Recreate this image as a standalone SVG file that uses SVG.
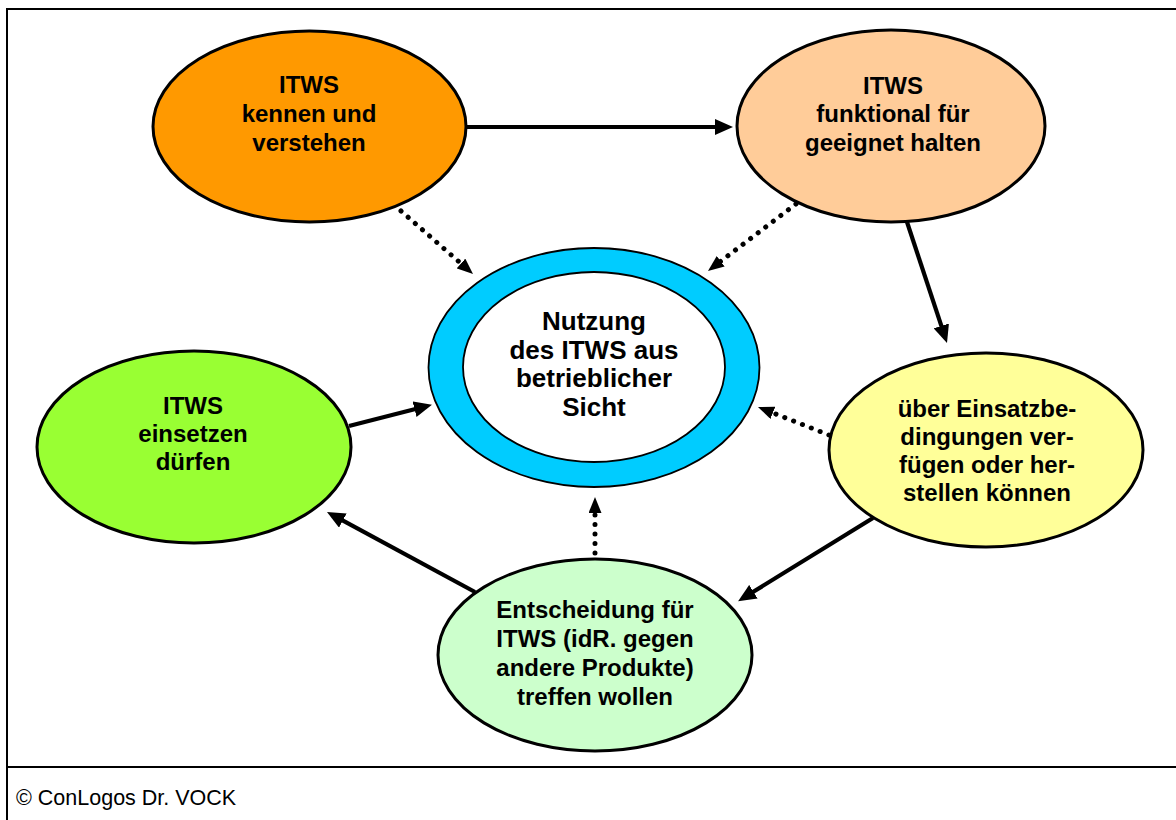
<svg xmlns="http://www.w3.org/2000/svg" width="1176" height="820" viewBox="0 0 1176 820">
<style>
.node{stroke:#000;stroke-width:3}
.ring{stroke:#000;stroke-width:1.8}
.t{font-family:"Liberation Sans",Arial,sans-serif;font-weight:bold;font-size:24px;text-anchor:middle;fill:#000}
.tc{font-size:26px}
.solid{stroke:#000;stroke-width:4.2;fill:none}
.dot{stroke:#000;stroke-width:5;fill:none;stroke-linecap:round;stroke-dasharray:0.1 9.4}
.frame{fill:none;stroke:#000;stroke-width:2}
</style>
<defs>
<marker id="ah" markerUnits="userSpaceOnUse" markerWidth="18" markerHeight="16" viewBox="0 0 18 16" refX="4" refY="8" orient="auto">
<path d="M0,0 L18,8 L0,16 z" fill="#000"/>
</marker>
<marker id="ahd" markerUnits="userSpaceOnUse" markerWidth="16" markerHeight="13" viewBox="0 0 16 13" refX="2" refY="6.5" orient="auto">
<path d="M0,0 L16,6.5 L0,13 z" fill="#000"/>
</marker>
</defs>
<rect width="1176" height="820" fill="#fff"/>
<g id="frame">
<rect class="frame" x="7" y="9" width="1180" height="830"/>
<line class="frame" x1="7" y1="767" x2="1176" y2="767"/>
<text x="16" y="805" style="font-family:'Liberation Sans',Arial,sans-serif;font-size:21.5px;fill:#000">© ConLogos Dr. VOCK</text>
</g>
<g id="n-kennen">
<ellipse class="node" cx="309.5" cy="126.5" rx="156.5" ry="95.5" fill="#FF9900"/>
<text class="t" x="309" y="93">ITWS</text>
<text class="t" x="309" y="122">kennen und</text>
<text class="t" x="309" y="151">verstehen</text>
</g>
<g id="n-funktional">
<ellipse class="node" cx="891" cy="126" rx="154" ry="96" fill="#FFCC99"/>
<text class="t" x="893" y="94">ITWS</text>
<text class="t" x="893" y="122">funktional für</text>
<text class="t" x="893" y="151">geeignet halten</text>
</g>
<g id="n-nutzung">
<ellipse class="ring" cx="594" cy="367.5" rx="165.5" ry="119.5" fill="#00CCFF"/>
<ellipse class="ring" cx="594" cy="367" rx="131" ry="95" fill="#fff"/>
<text class="t tc" x="594" y="330">Nutzung</text>
<text class="t tc" x="594" y="358.5">des ITWS aus</text>
<text class="t tc" x="594" y="387">betrieblicher</text>
<text class="t tc" x="594" y="415.5">Sicht</text>
</g>
<g id="n-einsatz">
<ellipse class="node" cx="986" cy="450" rx="157" ry="97" fill="#FFFF99"/>
<text class="t" x="987" y="417">über Einsatzbe-</text>
<text class="t" x="987" y="445">dingungen ver-</text>
<text class="t" x="987" y="473">fügen oder her-</text>
<text class="t" x="987" y="501">stellen können</text>
</g>
<g id="n-einsetzen">
<ellipse class="node" cx="194" cy="447" rx="157" ry="96" fill="#99FF33"/>
<text class="t" x="193" y="414">ITWS</text>
<text class="t" x="193" y="442">einsetzen</text>
<text class="t" x="193" y="470">dürfen</text>
</g>
<g id="n-entscheidung">
<ellipse class="node" cx="595" cy="655" rx="157" ry="96" fill="#CCFFCC"/>
<text class="t" x="595" y="618">Entscheidung für</text>
<text class="t" x="595" y="647">ITWS (idR. gegen</text>
<text class="t" x="595" y="676">andere Produkte)</text>
<text class="t" x="595" y="705">treffen wollen</text>
</g>
<g id="connectors">
<line class="solid" x1="466" y1="127" x2="719" y2="127" marker-end="url(#ah)"/>
<line class="solid" x1="907" y1="222" x2="942.6" y2="329.7" marker-end="url(#ah)"/>
<line class="solid" x1="873" y1="518" x2="750" y2="593.8" marker-end="url(#ah)"/>
<line class="solid" x1="475" y1="592" x2="339.3" y2="518.7" marker-end="url(#ah)"/>
<line class="solid" x1="349" y1="426" x2="418.4" y2="408.2" marker-end="url(#ah)"/>
<line class="dot" x1="401" y1="211" x2="462.5" y2="264.8" marker-end="url(#ahd)"/>
<line class="dot" x1="796" y1="204" x2="719.1" y2="262.5" marker-end="url(#ahd)"/>
<line class="dot" x1="829" y1="435" x2="771" y2="412.1" marker-end="url(#ahd)"/>
<line class="dot" x1="595" y1="553" x2="595" y2="511" marker-end="url(#ahd)"/>
</g>
</svg>
